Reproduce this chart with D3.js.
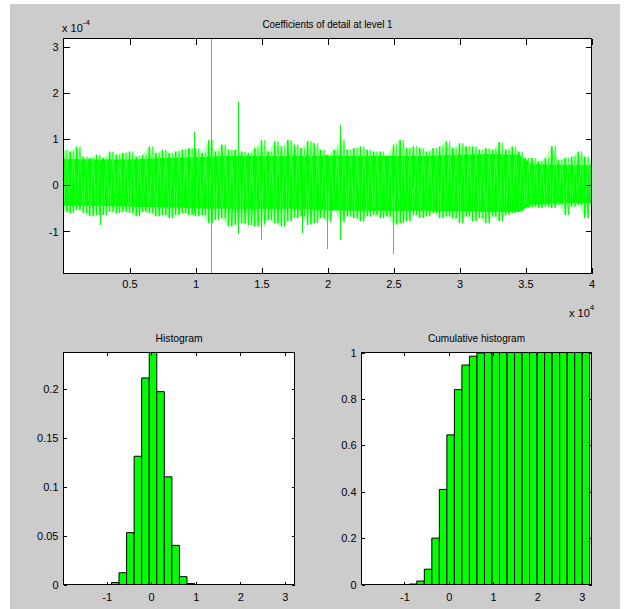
<!DOCTYPE html>
<html>
<head>
<meta charset="utf-8">
<script src="https://cdn.jsdelivr.net/npm/d3@7"></script>
<style>
  body { margin: 0; background: #fff; }
  text { font-family: "Liberation Sans Narrow", "Liberation Sans", Arial, sans-serif; fill: #000; }
</style>
</head>
<body>
<div id="chart"></div>
<script>
// detail coefficients (x axis in 10^4 samples, values in 10^-4)
// envelope of the noise, one reading every 0.05 x 10^4 samples
const envStep = 0.05;
const sigUpper = [
  0.77, 0.73, 0.84, 0.62, 0.59, 0.66, 0.59, 0.73, 0.66, 0.70, 0.73, 0.62, 0.66, 0.84, 0.70, 0.77, 0.70, 0.73, 0.77, 0.80,
  0.80, 0.70, 0.98, 0.73, 0.88, 0.77, 0.77, 0.73, 0.70, 0.80, 0.98, 0.73, 0.95, 0.84, 0.98, 0.88, 0.80, 0.95, 0.91, 0.77,
  0.66, 0.77, 0.98, 0.77, 0.80, 0.84, 0.77, 0.73, 0.73, 0.62, 0.88, 0.98, 0.80, 0.84, 0.80, 0.73, 0.80, 0.84, 0.95, 0.80,
  0.91, 0.84, 0.84, 0.77, 0.80, 0.77, 0.93, 0.77, 0.84, 0.73, 0.59, 0.59, 0.52, 0.59, 0.85, 0.55, 0.59, 0.62, 0.73, 0.62,
  0.55
];
const sigLower = [
  -0.57, -0.60, -0.53, -0.60, -0.67, -0.64, -0.64, -0.57, -0.60, -0.57, -0.60, -0.67, -0.57, -0.60, -0.67, -0.64, -0.71, -0.64, -0.60, -0.64,
  -0.67, -0.64, -0.82, -0.75, -0.71, -0.89, -0.85, -0.82, -0.85, -0.89, -0.85, -0.75, -0.82, -0.89, -0.78, -0.71, -0.67, -0.85, -0.82, -0.71,
  -0.80, -0.53, -0.80, -0.67, -0.71, -0.78, -0.67, -0.64, -0.71, -0.67, -0.85, -0.82, -0.78, -0.64, -0.71, -0.67, -0.60, -0.71, -0.67, -0.71,
  -0.82, -0.67, -0.78, -0.71, -0.82, -0.67, -0.78, -0.64, -0.60, -0.57, -0.49, -0.46, -0.49, -0.46, -0.49, -0.42, -0.64, -0.46, -0.42, -0.71,
  -0.39
];
// dense core of the band
const coreX     = [0, 0.25, 0.5, 0.75, 1, 1.25, 1.5, 1.75, 2, 2.25, 2.5, 2.75, 3, 3.25, 3.45, 3.55, 3.75, 4];
const coreUpper = [0.57, 0.56, 0.56, 0.59, 0.61, 0.64, 0.64, 0.64, 0.64, 0.64, 0.64, 0.64, 0.66, 0.68, 0.66, 0.46, 0.44, 0.44];
const coreLower = [-0.44, -0.44, -0.46, -0.48, -0.49, -0.51, -0.51, -0.51, -0.54, -0.55, -0.55, -0.55, -0.56, -0.57, -0.57, -0.42, -0.39, -0.39];
// isolated spikes
const spikeX  = [1.121, 1.328, 0.995, 2.098, 2.001, 2.50, 1.50, 1.81, 0.28];
const spikeHi = [3.18, 1.80, 1.16, 1.30, 0.60, 0.60, 0.60, 0.60, 0.50];
const spikeLo = [-1.91, -1.05, -0.60, -1.18, -1.39, -1.48, -1.19, -1.03, -0.87];
const sigXTicks = [0.5, 1, 1.5, 2, 2.5, 3, 3.5, 4];
const sigYTicks = [-1, 0, 1, 2, 3];

// histograms: 30 bins over the data range
const binRange = [-1.91, 3.18];
const histValues = [0, 0, 0, 0, 0, 0, 0.002, 0.012, 0.053, 0.131, 0.211, 0.237, 0.197, 0.110, 0.040,
  0.008, 0.001, 0, 0, 0, 0, 0, 0, 0, 0, 0, 0, 0, 0, 0];
const cumValues = [0, 0, 0, 0, 0, 0, 0.002, 0.015, 0.066, 0.200, 0.410, 0.645, 0.840, 0.946, 0.984,
  0.998, 1, 1, 1, 1, 1, 1, 1, 1, 1, 1, 1, 1, 1, 1];
const histXTicks = [-1, 0, 1, 2, 3];
const histYTicks = [0, 0.05, 0.1, 0.15, 0.2];
const cumYTicks = [0, 0.2, 0.4, 0.6, 0.8, 1];

const svg = d3.select("#chart").append("svg")
  .attr("width", 629)
  .attr("height", 609);

// figure background
svg.append("rect")
  .attr("x", 10).attr("y", 4)
  .attr("width", 610).attr("height", 605)
  .attr("fill", "#cccccc");

function panel(left, topY, w, h, xDomain, yDomain) {
  const g = svg.append("g").attr("transform", `translate(${left},${topY})`);
  g.append("rect").attr("width", w).attr("height", h).attr("fill", "#ffffff");
  const x = d3.scaleLinear().domain(xDomain).range([0, w]);
  const y = d3.scaleLinear().domain(yDomain).range([h, 0]);
  return { g, x, y, w, h };
}

function frame(p, xTicks, yTicks, tick, padX) {
  const fmt = d => String(d);
  const axes = [
    p.g.append("g").attr("transform", `translate(0,${p.h})`)
      .call(d3.axisBottom(p.x).tickValues(xTicks).tickSizeInner(-tick).tickSizeOuter(0).tickPadding(padX).tickFormat(fmt)),
    p.g.append("g")
      .call(d3.axisTop(p.x).tickValues(xTicks).tickSizeInner(-tick).tickSizeOuter(0).tickFormat("")),
    p.g.append("g")
      .call(d3.axisLeft(p.y).tickValues(yTicks).tickSizeInner(-tick).tickSizeOuter(0).tickPadding(5).tickFormat(fmt)),
    p.g.append("g").attr("transform", `translate(${p.w},0)`)
      .call(d3.axisRight(p.y).tickValues(yTicks).tickSizeInner(-tick).tickSizeOuter(0).tickFormat(""))
  ];
  axes.forEach(a => {
    a.attr("font-size", 11);
    a.select(".domain").remove();
    a.selectAll("line").attr("stroke", "#000").attr("shape-rendering", "crispEdges");
  });
  p.g.append("rect")
    .attr("width", p.w).attr("height", p.h)
    .attr("fill", "none").attr("stroke", "#000")
    .attr("shape-rendering", "crispEdges");
}

function title(p, label, width) {
  p.g.append("text")
    .attr("x", p.w / 2).attr("y", -11)
    .attr("text-anchor", "middle")
    .attr("font-size", 11)
    .attr("textLength", width)
    .attr("lengthAdjust", "spacingAndGlyphs")
    .text(label);
}

// ---- top: coefficients ----
const coef = panel(63.5, 38.5, 528, 235, [0, 4], [-1.91, 3.18]);
svg.append("clipPath").attr("id", "clipTop")
  .append("rect").attr("width", coef.w).attr("height", coef.h);
const sig = coef.g.append("g").attr("clip-path", "url(#clipTop)");

const env = sigUpper.map((d, i) => ({ x: i * envStep, hi: d, lo: sigLower[i] }));

// pale fringe where the noise is sparse
sig.append("path")
  .datum(env)
  .attr("fill", "#b8ffb8")
  .attr("d", d3.area().x(d => coef.x(d.x)).y0(d => coef.y(d.lo)).y1(d => coef.y(d.hi)));

const core = coreX.map((d, i) => ({ x: d, hi: coreUpper[i], lo: coreLower[i] }));
sig.append("path")
  .datum(core)
  .attr("fill", "#00ff00")
  .attr("d", d3.area().x(d => coef.x(d.x)).y0(d => coef.y(d.lo)).y1(d => coef.y(d.hi)));

// noise strokes: up, down and crossing between neighbouring readings
const zig = [];
env.forEach(d => {
  zig.push([coef.x(d.x), coef.y(d.hi)]);
  zig.push([coef.x(d.x + envStep / 2), coef.y(d.lo)]);
});
sig.append("path")
  .attr("fill", "none")
  .attr("stroke", "#00ff00")
  .attr("stroke-width", 1)
  .attr("d", d3.line()(zig));

const zag = [];
env.forEach(d => {
  zag.push([coef.x(d.x), coef.y(d.lo)]);
  zag.push([coef.x(d.x + envStep / 2), coef.y(d.hi)]);
});
sig.append("path")
  .attr("fill", "none")
  .attr("stroke", "#40ff40")
  .attr("stroke-width", 1)
  .attr("d", d3.line()(zag));

sig.selectAll("line.env")
  .data(env)
  .enter()
  .append("line")
  .attr("class", "env")
  .attr("x1", d => coef.x(d.x)).attr("x2", d => coef.x(d.x))
  .attr("y1", d => coef.y(d.hi)).attr("y2", d => coef.y(d.lo))
  .attr("stroke", "#00ff00")
  .attr("shape-rendering", "crispEdges");

sig.selectAll("line.spike")
  .data(spikeX)
  .enter()
  .append("line")
  .attr("class", "spike")
  .attr("x1", d => coef.x(d)).attr("x2", d => coef.x(d))
  .attr("y1", (d, i) => coef.y(spikeHi[i])).attr("y2", (d, i) => coef.y(spikeLo[i]))
  .attr("stroke", "#00ff00")
  .attr("stroke-width", 1)
  .attr("shape-rendering", "crispEdges");

frame(coef, sigXTicks, sigYTicks, 6, 7);
title(coef, "Coefficients of detail at level 1", 130);

// exponent labels
const expTop = svg.append("text").attr("x", 62).attr("y", 32).attr("font-size", 11);
expTop.append("tspan").text("x 10");
expTop.append("tspan").attr("dy", -7).attr("font-size", 8).text("-4");
const expBot = svg.append("text").attr("x", 569).attr("y", 317).attr("font-size", 11);
expBot.append("tspan").text("x 10");
expBot.append("tspan").attr("dy", -7).attr("font-size", 8).text("4");

// ---- histograms ----
function bars(p, values) {
  const edge = d3.scaleLinear().domain([0, values.length]).range(binRange);
  p.g.selectAll("path.bar")
    .data(values)
    .enter()
    .append("path")
    .attr("class", "bar")
    .attr("d", (d, i) => {
      const x0 = p.x(edge(i)), x1 = p.x(edge(i + 1));
      const y0 = p.y(0), y1 = p.y(d);
      return `M${x0},${y0}V${y1}H${x1}V${y0}Z`;
    })
    .attr("fill", "#00ff00")
    .attr("stroke", "#000")
    .attr("stroke-width", 1);
}

const hist = panel(63.5, 352.5, 231, 232, [-1.97, 3.22], [0, 0.237]);
bars(hist, histValues);
frame(hist, histXTicks, histYTicks, 3, 9);
title(hist, "Histogram", 47);

const cum = panel(361.5, 352.5, 230, 232, [-1.97, 3.22], [0, 1]);
bars(cum, cumValues);
frame(cum, histXTicks, cumYTicks, 3, 9);
title(cum, "Cumulative histogram", 97);
</script>
</body>
</html>
